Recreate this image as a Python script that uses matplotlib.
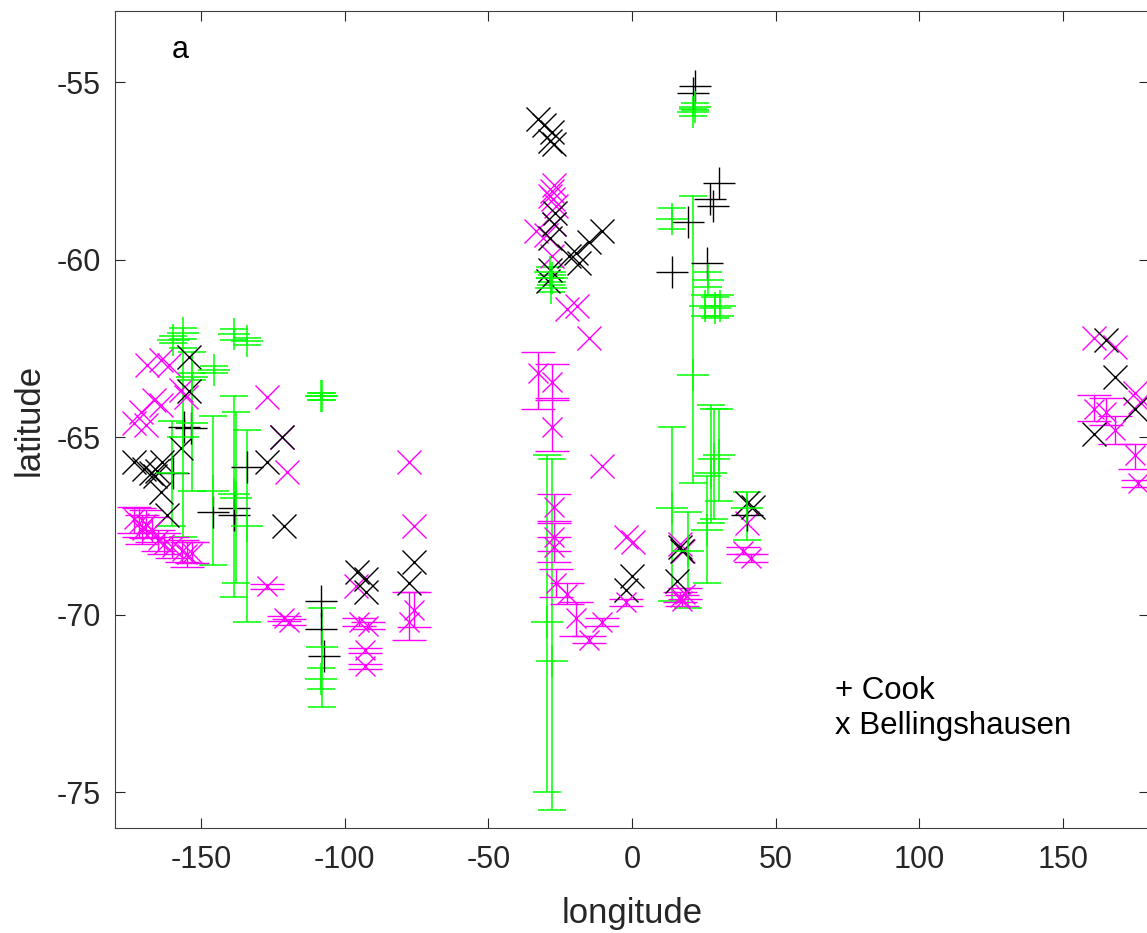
import numpy as np
import matplotlib
matplotlib.use('Agg')
import matplotlib.pyplot as plt

plt.rcParams['font.family'] = ['Liberation Sans', 'DejaVu Sans']
plt.rcParams['axes.unicode_minus'] = False

# Cook, with error bars (green): lon, lat, error down, error up
cook_err_lon = [-159.8, -156.3, -138.5, -134.0, -145.5, -153.2, -160.0, -156.3, -153.2, -145.8,
                -138.5, -138.0, -134.0, -108.4, -107.8, -108.0, -108.2,
                -29.5, -27.9, -28.7, -27.7, -28.2,
                21.9, 21.2, 13.8, 26.3, 25.5, 29.0, 30.5,
                21.2, 13.8, 19.6, 26.0, 27.4, 28.4, 30.2, 40.0]
cook_err_lat = [-62.26, -62.07, -62.1, -62.3, -63.1, -63.3, -66.0, -65.0, -64.6, -66.5,
                -66.6, -66.7, -67.5, -63.84, -63.84, -70.9, -71.8,
                -70.2, -71.3, -60.36, -60.53, -60.8,
                -55.7, -55.85, -58.85, -60.56, -61.3, -61.35, -61.3,
                -63.25, -67.0, -68.2, -67.6, -66.0, -65.6, -65.5, -67.0]
cook_err_dn = [0.1, 0.15, 0.15, 0.1, 0.1, 0.1, 1.5, 2.8, 1.9, 2.1,
               2.9, 2.4, 2.7, 0.1, 0.1, 1.7, 0.3,
               4.8, 4.2, 0.15, 0.1, 0.1,
               0.1, 0.1, 0.3, 0.2, 0.3, 0.3, 0.3,
               3.05, 2.6, 1.6, 1.5, 1.4, 1.7, 1.3, 0.9]
cook_err_up = [0.1, 0.15, 0.15, 0.1, 0.1, 0.1, 1.46, 2.5, 2.0, 2.1,
               2.76, 2.4, 2.7, 0.1, 0.1, 1.1, 0.3,
               4.7, 5.7, 0.15, 0.1, 0.1,
               0.1, 0.1, 0.3, 0.2, 0.3, 0.3, 0.3,
               5.05, 2.3, 1.1, 1.5, 1.9, 1.4, 1.3, 0.45]

# Cook, no error (black +)
cook_lon = [21.9, 21.2, 30.2, 27.2, 28.3, 19.6, 26.0, 13.8,
            -156.0, -153.5, -159.7, -134.0, -145.8, -138.5, -138.5,
            -108.2, -108.2, -107.2, 40.0]
cook_lat = [-55.1, -55.3, -57.85, -58.3, -58.5, -58.95, -60.1, -60.36,
            -64.7, -64.75, -66.0, -65.85, -67.1, -67.0, -67.2,
            -69.6, -70.4, -71.15, -67.2]

# Bellingshausen, with error bars (magenta)
bell_err_lon = [-173.3, -171.5, -170.5, -169.1, -167.0, -165.2, -162.8, -160.0, -156.8, -155.0, -153.2,
                -127.0, -121.0, -119.5, -95.0, -92.0, -93.0, -93.0, -77.5, -75.8,
                -32.6, -28.0, -27.7, -27.0, -27.0, -27.0, -26.5, -22.8, -19.4, -14.8, -10.3, -2.0,
                16.6, 17.5, 18.5, 38.5, 41.6,
                161.0, 165.0, 168.0, 175.0, 176.0]
bell_err_lat = [-67.3, -67.4, -67.6, -67.45, -67.6, -67.9, -68.0, -68.1, -68.2, -68.3, -68.25,
                -69.2, -70.1, -70.2, -70.2, -70.3, -71.0, -71.45, -70.2, -69.85,
                -63.2, -63.45, -64.7, -66.95, -67.8, -68.1, -69.1, -69.4, -70.1, -70.7, -70.2, -69.64,
                -69.5, -69.6, -69.4, -68.2, -68.4,
                -64.2, -64.3, -64.8, -65.5, -66.3]
bell_err_dn = [0.4, 0.4, 0.4, 0.4, 0.35, 0.3, 0.3, 0.3, 0.3, 0.35, 0.3,
               0.08, 0.08, 0.08, 0.1, 0.1, 0.08, 0.08, 0.5, 0.5,
               1.0, 0.5, 0.7, 0.4, 0.4, 0.4, 0.4, 0.3, 0.5, 0.1, 0.1, 0.1,
               0.15, 0.15, 0.15, 0.1, 0.1,
               0.35, 0.35, 0.4, 0.4, 0.1]
bell_err_up = [0.35, 0.4, 0.4, 0.4, 0.35, 0.3, 0.3, 0.3, 0.3, 0.35, 0.3,
               0.08, 0.08, 0.08, 0.1, 0.1, 0.08, 0.08, 0.85, 0.5,
               0.6, 0.5, 0.8, 0.35, 0.4, 0.3, 0.4, 0.3, 0.45, 0.1, 0.1, 0.1,
               0.15, 0.15, 0.15, 0.1, 0.1,
               0.4, 0.4, 0.4, 0.3, 0.1]

# Bellingshausen, no error, magenta x
bell_m_lon = [-168.8, -163.9, -161.1, -166.4, -163.9, -173.3, -169.1, -157.0, -155.2, -171.0,
              -127.0, -121.8, -120.0, -77.8, -75.8, -96.0,
              -10.3, -2.0, 0.2,
              -27.7, -27.0, -27.5, -26.3, -28.5, -33.3, -29.8, -27.7, -22.8, -19.0, -14.8, -27.0,
              161.0, 168.0, 175.0, 177.0, 40.0, 16.6, 17.6]
bell_m_lat = [-62.97, -62.83, -62.97, -63.95, -64.09, -64.6, -64.65, -63.67, -63.86, -64.3,
              -63.86, -64.99, -65.97, -65.7, -67.5, -69.2,
              -65.8, -67.8, -67.96,
              -58.06, -57.9, -58.3, -58.5, -58.2, -59.2, -59.3, -59.9, -61.4, -61.3, -62.2, -59.0,
              -62.2, -62.46, -63.75, -64.0, -67.4, -68.0, -68.2]

# Bellingshausen, no error, black x
bell_k_lon = [-32.9, -30.5, -27.7, -27.0, -28.4,
              -26.7, -27.0, -28.4, -19.4, -14.8, -10.6, -18.3, -28.4, -29.4, -21.8,
              -154.2, -154.2, -121.8, -121.2, -127.0, -156.9, -173.4, -170.0, -167.5, -165.4,
              -163.6, -163.9, -161.8, -166.0,
              -95.6, -92.5, -92.5, -75.8, -77.8,
              0.0, -2.0, 16.6, 17.3, 15.8, 39.9, 42.0,
              165.0, 168.0, 175.0, 161.0]
bell_k_lat = [-56.04, -56.2, -56.4, -56.74, -56.65,
              -58.7, -59.0, -59.4, -59.8, -59.5, -59.2, -60.1, -60.3, -60.6, -59.9,
              -62.74, -63.7, -65.0, -67.5, -65.7, -65.3, -65.7, -65.9, -66.0, -65.95,
              -65.7, -66.55, -67.2, -66.1,
              -68.8, -69.0, -69.36, -68.5, -69.1,
              -68.9, -69.3, -68.1, -68.2, -69.05, -66.85, -66.95,
              -62.26, -63.3, -64.2, -64.9]

GREEN = '#00ff00'
MAGENTA = '#ff00ff'

fig = plt.figure(figsize=(11.47, 9.33), dpi=100)
ax = fig.add_axes([115 / 1147, 105 / 933, 1034 / 1147, 817 / 933])

ax.errorbar(cook_err_lon, cook_err_lat, yerr=[cook_err_dn, cook_err_up], fmt='+',
            color=GREEN, ms=23, mew=1.1, elinewidth=1.1, capsize=10, capthick=1.1)
ax.errorbar(bell_err_lon, bell_err_lat, yerr=[bell_err_dn, bell_err_up], fmt='x',
            color=MAGENTA, ms=14, mew=1.0, elinewidth=1.0, capsize=12, capthick=1.0)
ax.plot(bell_m_lon, bell_m_lat, 'x', color=MAGENTA, ms=17, mew=1.0)
ax.plot(cook_lon, cook_lat, '+', color='k', ms=23, mew=1.0)
ax.plot(bell_k_lon, bell_k_lat, 'x', color='k', ms=17, mew=1.0)

ax.set_xlim(-180, 180)
ax.set_ylim(-76, -53)
ax.set_xticks(np.arange(-150, 151, 50))
ax.set_yticks(np.arange(-75, -54, 5))
ax.tick_params(direction='in', top=True, right=True, length=7, width=0.8,
               labelsize=22, colors='#262626')
ax.tick_params(axis='x', pad=12)
ax.tick_params(axis='y', pad=10)
for s in ax.spines.values():
    s.set_color('#404040')
    s.set_linewidth(0.8)

ax.set_xlabel('longitude', fontsize=25, color='#262626', labelpad=16)
ax.set_ylabel('latitude', fontsize=25, color='#262626', labelpad=8)

ax.text(0.063, 0.952, 'a', transform=ax.transAxes, fontsize=22, va='center', ha='center')
ax.text(0.696, 0.168, '+ Cook', transform=ax.transAxes, fontsize=22.5, va='center', ha='left')
ax.text(0.696, 0.125, 'x Bellingshausen', transform=ax.transAxes, fontsize=22.5, va='center', ha='left')

fig.savefig('out.png', dpi=100)
